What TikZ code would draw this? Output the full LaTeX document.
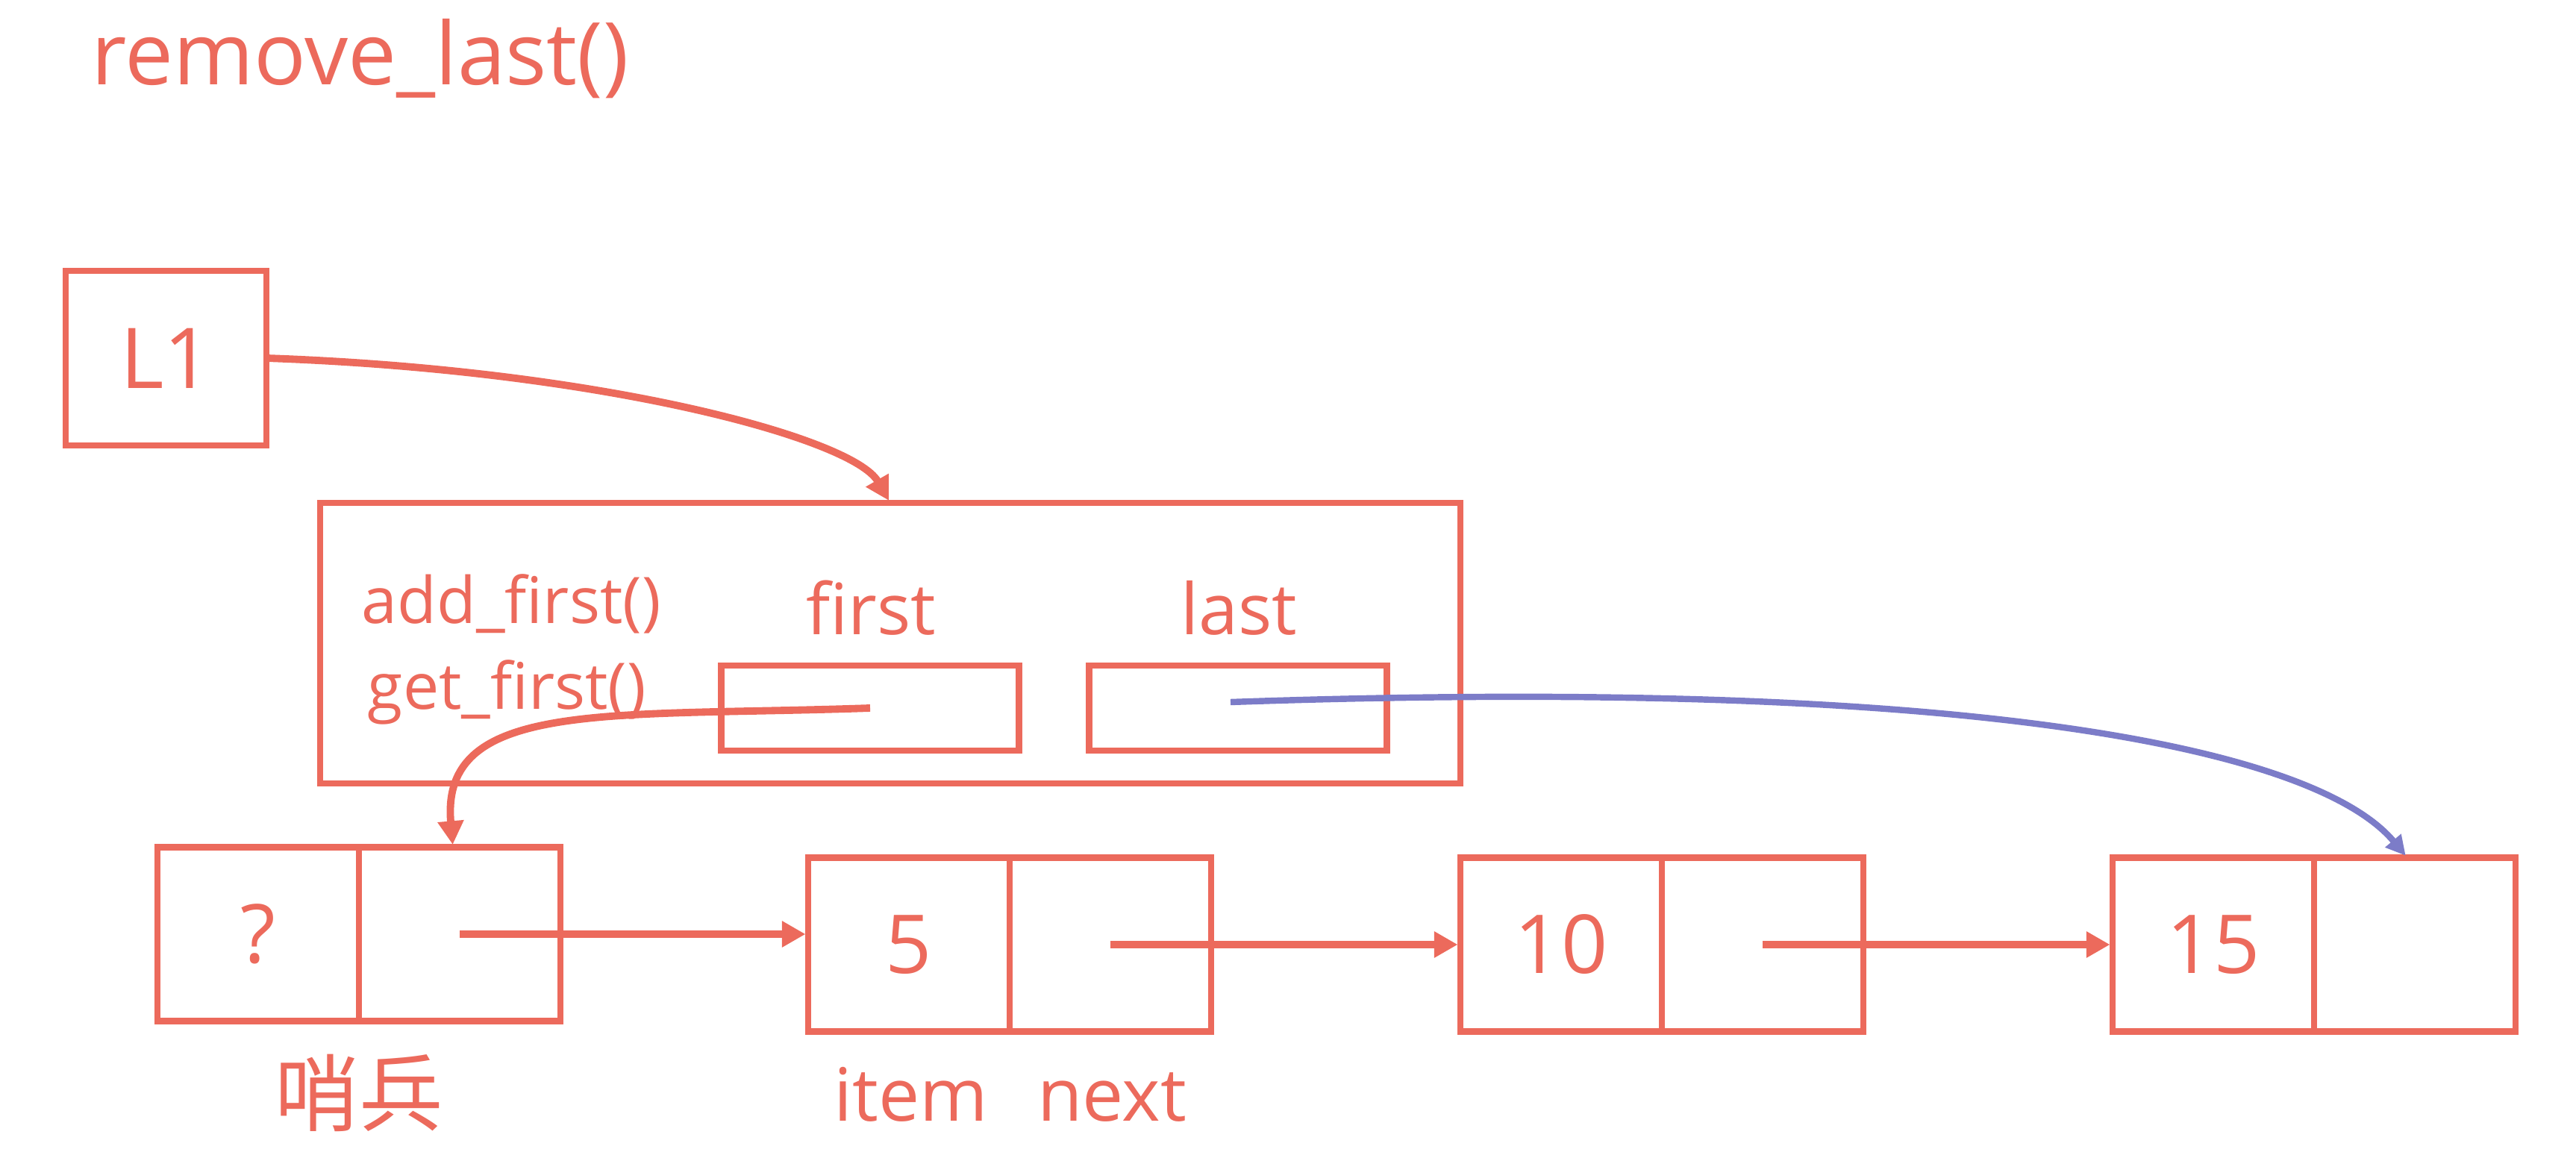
\documentclass[tikz,border=0pt]{standalone}
\usepackage{fontspec}
\setmainfont{Open Sans}
\newfontfamily\cjkfont{Noto Sans CJK SC}
\usetikzlibrary{arrows.meta,positioning}
\definecolor{coral}{RGB}{236,106,92}
\definecolor{lavender}{RGB}{124,124,200}

\begin{document}
\begin{tikzpicture}[shorten >=1pt,-{Triangle[length=9pt,width=9.5pt]},color=coral,line width=2.8pt]
            \tikzstyle{box}=[rectangle,draw=coral,line width=2.3pt,inner sep=0pt,outer sep=0pt]
            \tikzstyle{cell}=[box,minimum width=2.7cm,minimum height=2.33cm,font=\fontsize{31}{37}\selectfont]
            \tikzstyle{field}=[box,minimum width=3.99cm,minimum height=1.14cm]
            \useasboundingbox (0,0) rectangle (34.52,-15.48);

                    \node[anchor=base west,inner sep=0pt,font=\fontsize{33}{40}\selectfont] (title) at (1.18,-1.14) {remove\_last()};

                    \node[box,minimum width=2.69cm,minimum height=2.34cm,font=\fontsize{32}{38}\selectfont] (L1) at (2.225,-4.80) {L1};
                    \node[box,minimum width=15.28cm,minimum height=3.76cm] (list) at (11.93,-8.62) {};
                    \node[anchor=base west,inner sep=0pt,font=\fontsize{24.5}{29}\selectfont] (add) at (4.80,-8.35) {add\_first()};
                    \node[anchor=base west,inner sep=0pt,font=\fontsize{24.5}{29}\selectfont] (get) at (4.88,-9.50) {get\_first()};
                    \node[anchor=base,inner sep=0pt,font=\fontsize{27}{32}\selectfont] (first-lbl) at (11.67,-8.51) {first};
                    \node[anchor=base,inner sep=0pt,font=\fontsize{27}{32}\selectfont] (last-lbl) at (16.60,-8.51) {last};
                    \node[field] (first) at (11.66,-9.49) {};
                    \node[field] (last) at (16.59,-9.49) {};

                \foreach \i/\x/\y/\val in {0/3.46/-12.52/?, 1/12.18/-12.66/5, 2/20.92/-12.66/10, 3/29.66/-12.66/15} {
                    \node[cell] (I-\i) at (\x,\y) {\val};
                    \node[cell,right=0pt of I-\i] (P-\i) {};
                }

                    \node[font=\cjkfont\fontsize{32}{38}\selectfont] (sentinel) at (4.81,-14.65) {哨兵};
                    \node[anchor=base,inner sep=0pt,font=\fontsize{28}{33}\selectfont] (item) at (12.21,-15.02) {item};
                    \node[anchor=base,inner sep=0pt,font=\fontsize{28}{33}\selectfont] (next) at (14.90,-15.02) {next};

                \foreach \from/\to in {0/1, 1/2, 2/3}
                    \draw (P-\from.center) -- (P-\from.center -| I-\to.west);

                \draw (L1.east) to[out=-2,in=120,out distance=4.5cm,in distance=1cm] (list.north);
                \draw (first.center) to[out=182,in=95,out distance=3.5cm,in distance=2cm] ([xshift=-0.9mm]P-0.north);
                \draw[draw=lavender,line width=2.4pt,-{Triangle[length=7.5pt,width=7.5pt]}] ([xshift=-1mm,yshift=0.8mm]last.center) to[out=2,in=130,out distance=10cm,in distance=1.9cm] ([xshift=-1mm]P-3.north);
        \end{tikzpicture}
\end{document}
